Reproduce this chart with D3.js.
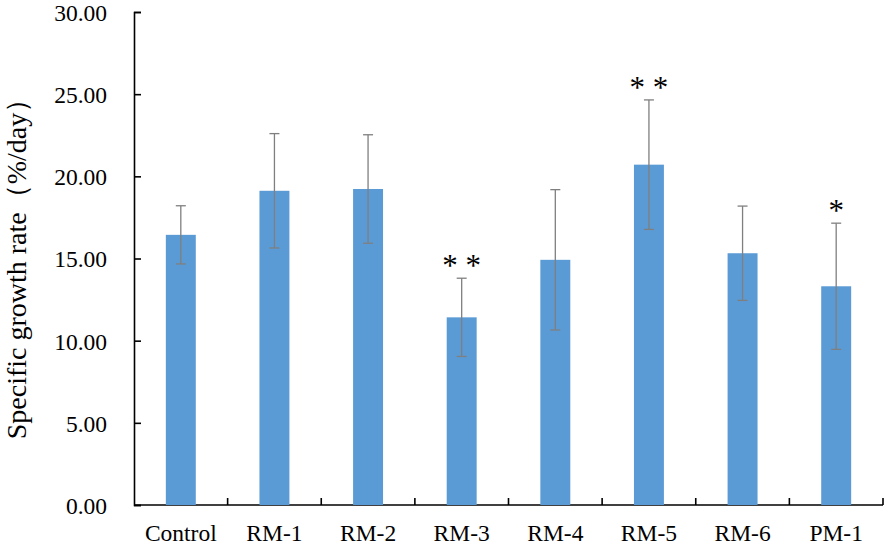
<!DOCTYPE html>
<html>
<head>
<meta charset="utf-8">
<script src="https://cdn.jsdelivr.net/npm/d3@7/dist/d3.min.js"></script>
<style>
  body { margin: 0; background: #fff; }
  svg text { font-family: "Times New Roman", "Liberation Serif", serif; fill: #000; }
</style>
</head>
<body>
<svg width="884" height="549"></svg>
<script>
  // values
  const groups = ['Control', 'RM-1', 'RM-2', 'RM-3', 'RM-4', 'RM-5', 'RM-6', 'PM-1'];
  const growth = [16.44, 19.12, 19.23, 11.42, 14.92, 20.71, 15.32, 13.31];
  const errors = [1.77, 3.48, 3.30, 2.38, 4.27, 3.94, 2.87, 3.84];
  const marks = ['', '', '', '* *', '', '* *', '', '*'];
  const yTicks = [0, 5, 10, 15, 20, 25, 30];

  const svg = d3.select('svg');
  const margin = {top: 12, right: 1, bottom: 44, left: 134};
  const width = +svg.attr('width');
  const height = +svg.attr('height');
  const innerWidth = width - margin.left - margin.right;
  const innerHeight = height - margin.top - margin.bottom;

  const g = svg.append('g')
    .attr('transform', `translate(${margin.left}, ${margin.top})`);

  const xScale = d3.scaleBand()
    .domain(groups)
    .range([0, innerWidth])
    .paddingInner(0.68)
    .paddingOuter(0.34);

  const yScale = d3.scaleLinear()
    .domain([0, 30])
    .range([innerHeight, 0]);

  // y axis, ticks pointing inward
  const yAxisG = g.append('g')
    .call(d3.axisLeft(yScale).tickValues(yTicks).tickFormat(d3.format('.2f'))
      .tickSize(-7).tickPadding(27));
  yAxisG.select('.domain').attr('stroke', '#000').attr('stroke-width', 1.6);
  yAxisG.selectAll('.tick line').attr('stroke', '#000').attr('stroke-width', 1.6);
  yAxisG.selectAll('.tick text')
    .attr('font-size', 23.5)
    .attr('font-family', '"Times New Roman", "Liberation Serif", serif')
    .attr('dy', '0.36em');

  // x axis: boundary ticks pointing up, labels centred under bars
  const xAxisG = g.append('g')
    .attr('transform', `translate(0, ${innerHeight})`);
  xAxisG.append('line')
    .attr('x1', 0).attr('x2', innerWidth)
    .attr('stroke', '#000').attr('stroke-width', 1.6);
  const step = xScale.step();
  xAxisG.selectAll('.xtick').data(groups)
    .enter().append('line')
      .attr('class', 'xtick')
      .attr('x1', (d, i) => (i + 1) * step)
      .attr('x2', (d, i) => (i + 1) * step)
      .attr('y1', 0).attr('y2', -7)
      .attr('stroke', '#000').attr('stroke-width', 1.6);
  xAxisG.selectAll('.xlabel').data(groups)
    .enter().append('text')
      .attr('class', 'xlabel')
      .attr('x', d => xScale(d) + xScale.bandwidth() / 2)
      .attr('y', 36)
      .attr('text-anchor', 'middle')
      .attr('font-size', 23.5)
      .text(d => d);

  const cx = i => xScale(groups[i]) + xScale.bandwidth() / 2;

  // bars
  g.selectAll('.bar').data(growth)
    .enter().append('rect')
      .attr('class', 'bar')
      .attr('x', (d, i) => xScale(groups[i]))
      .attr('width', xScale.bandwidth())
      .attr('y', d => yScale(d))
      .attr('height', d => innerHeight - yScale(d))
      .attr('fill', '#5b9bd5');

  // error bars
  const err = g.selectAll('.err').data(growth)
    .enter().append('g')
      .attr('class', 'err')
      .attr('stroke', '#7f7f7f')
      .attr('stroke-width', 1.3);
  err.append('line')
    .attr('x1', (d, i) => cx(i)).attr('x2', (d, i) => cx(i))
    .attr('y1', (d, i) => yScale(d - errors[i]))
    .attr('y2', (d, i) => yScale(d + errors[i]));
  err.append('line')
    .attr('x1', (d, i) => cx(i) - 5).attr('x2', (d, i) => cx(i) + 5)
    .attr('y1', (d, i) => yScale(d + errors[i]))
    .attr('y2', (d, i) => yScale(d + errors[i]));
  err.append('line')
    .attr('x1', (d, i) => cx(i) - 5).attr('x2', (d, i) => cx(i) + 5)
    .attr('y1', (d, i) => yScale(d - errors[i]))
    .attr('y2', (d, i) => yScale(d - errors[i]));

  // significance marks (only where there is one)
  const sigIdx = d3.range(groups.length).filter(i => marks[i] !== '');
  g.selectAll('.sig').data(sigIdx)
    .enter().append('text')
      .attr('class', 'sig')
      .attr('x', i => cx(i))
      .attr('y', i => yScale(growth[i] + errors[i]) - 2)
      .attr('text-anchor', 'middle')
      .attr('font-size', 31)
      .text(i => marks[i]);

  // y axis title
  svg.append('text')
    .attr('transform', 'rotate(-90)')
    .attr('x', -262)
    .attr('y', 26)
    .attr('text-anchor', 'middle')
    .attr('font-size', 28)
    .text('Specific growth rate（%/day）');
</script>
</body>
</html>
